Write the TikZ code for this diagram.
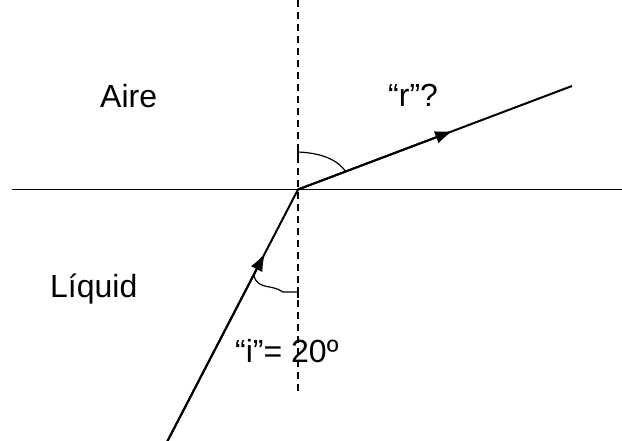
\documentclass[tikz,border=0pt]{standalone}
\usepackage{fontspec}
\setmainfont{Liberation Sans}
\usetikzlibrary{arrows.meta,calc}
\begin{document}
\begin{tikzpicture}[x=1pt,y=-1pt,
  ray/.style={line width=2pt},
  normal/.style={line width=1.5pt,dash pattern=on 7pt off 5pt},
  surface/.style={line width=1.9pt},
  arc/.style={line width=1.2pt},
  tip/.style={-{Latex[length=18pt,width=13pt]}},
  lbl/.style={anchor=base west,inner sep=0pt,font=\fontsize{32}{37}\selectfont}]
\useasboundingbox (0,0) rectangle (622,441);
\coordinate (O) at (298,189.5);
\coordinate (SL) at (12,189.5);
\coordinate (SR) at (622,189.5);
\coordinate (NT) at (298,0);
\coordinate (NB) at (298,393);
\coordinate (R) at (572,86);
\coordinate (I) at (167,442);
% surface and normal
\draw[surface] (SL) -- (SR);
\draw[normal] (NT) -- (NB);
% rays
\draw[ray] (I) -- (O) -- (R);
\draw[ray,tip] (O) -- ($(O)!0.566!(R)$);
\draw[ray,tip] (I) -- ($(I)!0.748!(O)$);
% angle marks
\draw[arc] (298,146) -- (298,157);
\draw[arc] (298,152) .. controls (322,153) and (338,160) .. (346,172);
\draw[arc] (298,287) -- (298,298);
\draw[arc] (254,276) .. controls (258,290) and (272,284) .. (283,292) -- (298,292);
% labels
\node[lbl] (aire) at (100,108) {Aire};
\node[lbl] (r) at (388,107) {“r”?};
\node[lbl] (liq) at (50,298) {Líquid};
\node[lbl] (i) at (235,362) {“i”= 20º};
\end{tikzpicture}
\end{document}
